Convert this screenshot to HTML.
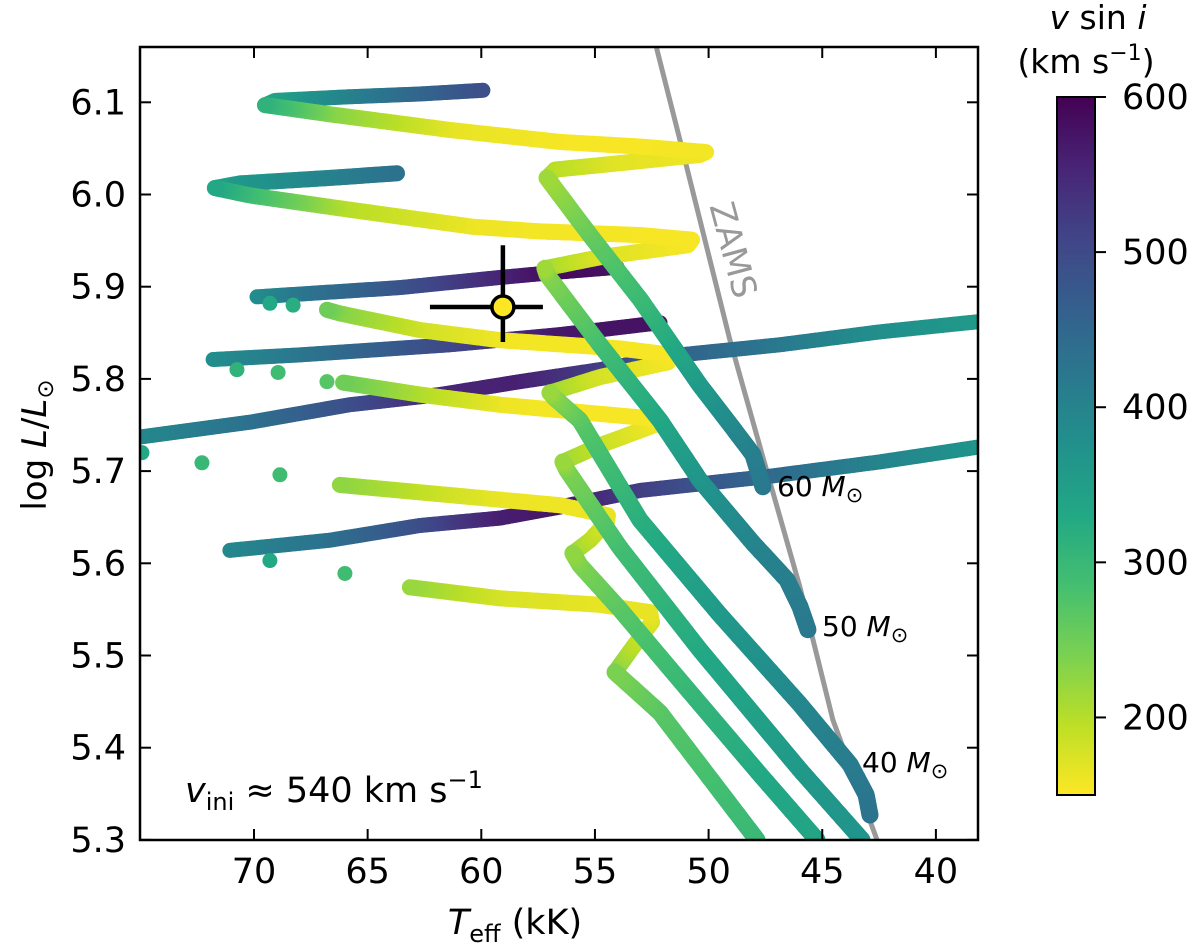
<!DOCTYPE html>
<html><head><meta charset="utf-8">
<style>
html,body{margin:0;padding:0;background:#fff;}
svg{display:block;font-family:"DejaVu Sans","Liberation Sans",sans-serif;}
</style></head>
<body>
<svg id="chart" width="1200" height="950" viewBox="0 0 1200 950" xmlns="http://www.w3.org/2000/svg">
<defs>
<clipPath id="plotclip"><rect x="140" y="47" width="838" height="793"/></clipPath>
<linearGradient id="cbgrad" x1="0" y1="0" x2="0" y2="1">
<stop offset="0" stop-color="#440154"/><stop offset="0.1" stop-color="#482475"/><stop offset="0.2" stop-color="#414487"/><stop offset="0.3" stop-color="#355f8d"/><stop offset="0.4" stop-color="#2a788e"/><stop offset="0.5" stop-color="#21918c"/><stop offset="0.6" stop-color="#22a884"/><stop offset="0.7" stop-color="#44bf70"/><stop offset="0.8" stop-color="#7ad151"/><stop offset="0.9" stop-color="#bddf26"/><stop offset="1" stop-color="#fde725"/>
</linearGradient>
</defs>
<rect x="0" y="0" width="1200" height="950" fill="#fff"/>
<g id="plot" clip-path="url(#plotclip)"></g>
<g id="axes"></g>
<text x="185" y="802" font-size="35" fill="#000"><tspan font-style="italic">v</tspan><tspan font-size="24" dy="8">ini</tspan><tspan dy="-8"> ≈ 540 km s</tspan><tspan font-size="24" dy="-14">−1</tspan></text>
<text x="777" y="496" font-size="28">60 <tspan font-style="italic">M</tspan><tspan font-size="21" dy="6">⊙</tspan></text>
<text x="822" y="636" font-size="28">50 <tspan font-style="italic">M</tspan><tspan font-size="21" dy="6">⊙</tspan></text>
<text x="862" y="772" font-size="28">40 <tspan font-style="italic">M</tspan><tspan font-size="21" dy="6">⊙</tspan></text>
<text x="0" y="0" font-size="34" fill="#999" text-anchor="middle" transform="translate(722,253) rotate(75)">ZAMS</text>
<text x="0" y="0" font-size="34" text-anchor="middle" transform="translate(46,445) rotate(-90)">log <tspan font-style="italic">L</tspan>/<tspan font-style="italic">L</tspan><tspan font-size="23" dy="7">⊙</tspan></text>
<text x="515" y="934" font-size="35" text-anchor="middle"><tspan font-style="italic">T</tspan><tspan font-size="24" dy="8">eff</tspan><tspan dy="-8"> (kK)</tspan></text>
<rect x="1057" y="97" width="38" height="698" fill="url(#cbgrad)" stroke="#000" stroke-width="2"/>
<g id="cbticks"></g>
<text x="1098" y="29" font-size="33" text-anchor="middle"><tspan font-style="italic">v</tspan> sin  <tspan font-style="italic">i</tspan></text>
<text x="1086" y="73" font-size="33" text-anchor="middle">(km s<tspan font-size="22" dy="-13">−1</tspan><tspan dy="13">)</tspan></text>
<g id="errpt"></g>
</svg>
<script>
// ----- data -----
const xTicks=[70,65,60,55,50,45,40];
const yTicks=[5.3,5.4,5.5,5.6,5.7,5.8,5.9,6.0,6.1];
const cbTicks=[600,500,400,300,200];
const zamsT=[52.5,52.27,51.26,49.06,47.61,45.98,44.53,42.59,42.3];
const zamsL=[6.2,6.157,6.059,5.842,5.715,5.574,5.43,5.3,5.26];
const starT=[59.05]; const starL=[5.878];
const starTerrLo=[57.29]; const starTerrHi=[62.26];
const starLerrLo=[5.84]; const starLerrHi=[5.945];
// 60 Msun
const ms60T=[47.61,48.05,49.19,50.38,53.0,55.22,57.11];
const ms60L=[5.683,5.718,5.755,5.793,5.886,5.956,6.018];
const ms60V=[420,410,390,360,300,260,215];
const loop60T=[57.11,56.76,53.9,50.38,50.11,53.02,56.54,61.38,66.66,69.52];
const loop60L=[6.018,6.027,6.034,6.043,6.046,6.052,6.057,6.07,6.087,6.097];
const loop60V=[215,200,170,160,158,155,155,165,230,310];
const blue60T=[69.52,69.08,65.78,62.7,59.93];
const blue60L=[6.097,6.102,6.106,6.109,6.113];
const blue60V=[310,340,400,450,490];
// 50 Msun
const ms50T=[45.63,45.98,46.55,48.05,50.38,52.14,54.78,57.11,57.2];
const ms50L=[5.528,5.553,5.582,5.622,5.69,5.755,5.837,5.913,5.92];
const ms50V=[420,415,410,400,370,335,290,235,215];
const loop50T=[57.2,54.78,50.91,50.73,53.02,57.42,60.37,66.22,70.18,71.72];
const loop50L=[5.92,5.932,5.945,5.951,5.956,5.96,5.965,5.985,5.999,6.007];
const loop50V=[215,175,155,155,155,157,160,200,290,330];
const blue50T=[71.72,70.62,66.66,63.71];
const blue50L=[6.007,6.012,6.018,6.023];
const blue50V=[330,360,400,430];
// 40 Msun
const ms40T=[42.9,43.07,43.78,45.98,49.5,53.02,55.66,56.76,56.98];
const ms40L=[5.327,5.349,5.382,5.447,5.544,5.647,5.755,5.779,5.785];
const ms40V=[430,425,415,395,360,320,270,235,220];
const loop40T=[56.98,54.78,51.79,51.61,53.9,59.18,62.7,66.22,66.79];
const loop40L=[5.785,5.802,5.818,5.826,5.833,5.842,5.853,5.871,5.875];
const loop40V=[220,180,158,155,155,158,180,230,250];
const dots40T=[68.28,69.3]; const dots40L=[5.88,5.882]; const dots40V=[320,330];
const blue40T=[69.87,67.98,63.58,59.18,56.54,54.03];
const blue40L=[5.889,5.892,5.899,5.91,5.916,5.921];
const blue40V=[380,420,480,550,590,580];
// track D
const msDT=[43.25,45.98,50.38,53.9,56.23,56.41];
const msDL=[5.3,5.376,5.506,5.617,5.701,5.71];
const msDV=[370,360,330,290,240,220];
const loopDT=[56.41,54.78,52.36,52.49,56.54,59.18,62.7,66.08];
const loopDL=[5.71,5.728,5.75,5.757,5.766,5.772,5.783,5.796];
const loopDV=[220,190,160,155,155,160,200,250];
const dotsDT=[66.79,68.94,70.75]; const dotsDL=[5.797,5.807,5.81]; const dotsDV=[270,290,310];
const blueDT=[71.8,67.98,61.38,56.54,52.14];
const blueDL=[5.821,5.826,5.837,5.848,5.861];
const blueDV=[380,420,500,570,580];
// track E
const msET=[45.23,47.74,51.26,53.9,55.66,55.97];
const msEL=[5.3,5.371,5.473,5.55,5.598,5.611];
const msEV=[340,330,300,270,240,225];
const loopET=[55.97,55.22,54.47,54.43,56.54,59.18,62.7,66.22];
const loopEL=[5.611,5.625,5.645,5.652,5.663,5.669,5.677,5.685];
const loopEV=[225,200,175,165,160,162,190,225];
const dotsET=[68.86,72.29,74.93]; const dotsEL=[5.696,5.709,5.72]; const dotsEV=[290,300,330];
const blueET=[75.0,70.18,65.78,61.82,58.3,54.78,51.26,46.86,42.46,38.15];
const blueEL=[5.737,5.753,5.772,5.783,5.797,5.81,5.826,5.837,5.851,5.862];
const blueEV=[390,430,490,550,560,520,460,420,380,360];
// track F
const msFT=[47.87,52.14,54.12];
const msFL=[5.3,5.438,5.482];
const msFV=[300,270,240];
const loopFT=[54.12,53.33,52.49,52.58,54.78,59.18,63.14];
const loopFL=[5.482,5.509,5.536,5.547,5.555,5.562,5.574];
const loopFV=[240,200,175,165,165,175,220];
const dotsFT=[66.0,69.3]; const dotsFL=[5.589,5.603]; const dotsFV=[290,330];
const blueFT=[71.06,66.66,62.7,59.18,56.54,53.02,47.43,42.46,38.15];
const blueFL=[5.614,5.625,5.641,5.649,5.661,5.679,5.694,5.71,5.726];
const blueFV=[390,430,490,560,575,520,450,400,370];

// ----- scales -----
const NS="http://www.w3.org/2000/svg";
function xs(T){return 254+(70-T)*22.73;}
function ys(L){return 102.3+(6.1-L)*922;}
const vmin=150,vmax=600;
const vir=[[68,1,84],[72,36,117],[65,68,135],[53,95,141],[42,120,142],[33,145,140],[34,168,132],[68,191,112],[122,209,81],[189,223,38],[253,231,37]];
function cmap(v){let s=(vmax-v)/(vmax-vmin);s=Math.max(0,Math.min(1,s));let f=s*10,i=Math.min(9,Math.floor(f)),u=f-i;
 const a=vir[i],b=vir[i+1];return 'rgb('+a.map((c,k)=>Math.round(c+(b[k]-c)*u)).join(',')+')';}
function mk(tag,attrs,parent){const e=document.createElementNS(NS,tag);for(const k in attrs)e.setAttribute(k,attrs[k]);parent.appendChild(e);return e;}

const plot=document.getElementById('plot');
const axes=document.getElementById('axes');

// ZAMS
let zp=zamsT.map((t,i)=>xs(t)+','+ys(zamsL[i])).join(' ');
const zl=mk('polyline',{points:zp,fill:'none',stroke:'#999','stroke-width':5},plot);



function drawTrack(T,L,V,r,name){
  const g=mk('g',{},plot);
  
  
  for(let i=0;i<T.length-1;i++){
    const x0=xs(T[i]),y0=ys(L[i]),x1=xs(T[i+1]),y1=ys(L[i+1]);
    const n=Math.max(1,Math.ceil(Math.hypot(x1-x0,y1-y0)/1.5));
    for(let k=(i==0?0:1);k<=n;k++){const f=k/n;
      const c=mk('circle',{cx:(x0+(x1-x0)*f).toFixed(1),cy:(y0+(y1-y0)*f).toFixed(1),r:r,fill:cmap(V[i]+(V[i+1]-V[i])*f)},g);
      
      
    }
  }
}
function drawDots(T,L,V,r,name){
  for(let i=0;i<T.length;i++){
    const c=mk('circle',{cx:xs(T[i]),cy:ys(L[i]),r:r,fill:cmap(V[i])},plot);
    
    
  }
}
drawTrack(blueFT,blueFL,blueFV,7.5,'track-f-blue-branch');
drawTrack(blueET,blueEL,blueEV,7.5,'track-e-blue-branch');
drawTrack(blueDT,blueDL,blueDV,7.5,'track-d-blue-branch');
drawTrack(blue40T,blue40L,blue40V,7.5,'track-40-blue-branch');
drawTrack(blue50T,blue50L,blue50V,8,'track-50-blue-branch');
drawTrack(blue60T,blue60L,blue60V,7.5,'track-60-blue-branch');
drawDots(dotsFT,dotsFL,dotsFV,7.5,'track-f-dot');
drawDots(dotsET,dotsEL,dotsEV,7.5,'track-e-dot');
drawDots(dotsDT,dotsDL,dotsDV,7.5,'track-d-dot');
drawDots(dots40T,dots40L,dots40V,7.5,'track-40-dot');
drawTrack(loopFT,loopFL,loopFV,8,'track-f-loop');
drawTrack(loopET,loopEL,loopEV,8,'track-e-loop');
drawTrack(loopDT,loopDL,loopDV,8,'track-d-loop');
drawTrack(loop40T,loop40L,loop40V,8,'track-40-loop');
drawTrack(loop50T,loop50L,loop50V,8,'track-50-loop');
drawTrack(loop60T,loop60L,loop60V,8,'track-60-loop');
drawTrack(msFT,msFL,msFV,8.5,'track-f-main-sequence');
drawTrack(msET,msEL,msEV,8.5,'track-e-main-sequence');
drawTrack(msDT,msDL,msDV,8.5,'track-d-main-sequence');
drawTrack(ms40T,ms40L,ms40V,8.5,'track-40-main-sequence');
drawTrack(ms50T,ms50L,ms50V,8.5,'track-50-main-sequence');
drawTrack(ms60T,ms60L,ms60V,8.5,'track-60-main-sequence');

// star with error bars
const ep=document.getElementById('errpt');
const sx=xs(starT[0]),sy=ys(starL[0]);
const eh=mk('line',{x1:xs(starTerrHi[0]),x2:xs(starTerrLo[0]),y1:sy,y2:sy,stroke:'#000','stroke-width':4.5},ep);


const ev=mk('line',{x1:sx,x2:sx,y1:ys(starLerrHi[0]),y2:ys(starLerrLo[0]),stroke:'#000','stroke-width':4.5},ep);


const sc=mk('circle',{cx:sx,cy:sy,r:11,fill:'#fde725',stroke:'#000','stroke-width':3.5},ep);



// axes frame
const fr=mk('rect',{x:140,y:47,width:838,height:793,fill:'none',stroke:'#000','stroke-width':2.5},axes);


xTicks.forEach(t=>{const x=xs(t);
  const a=mk('line',{x1:x,x2:x,y1:840,y2:829,stroke:'#000','stroke-width':2},axes);
  
  
  const b=mk('line',{x1:x,x2:x,y1:47,y2:58,stroke:'#000','stroke-width':2},axes);
  
  
  const l=mk('text',{x:x,y:883,'font-size':35,'text-anchor':'middle'},axes);
  l.textContent=String(t);
  
  
});
yTicks.forEach(t=>{const y=ys(t);
  const a=mk('line',{x1:140,x2:151,y1:y,y2:y,stroke:'#000','stroke-width':2},axes);
  
  
  const b=mk('line',{x1:978,x2:967,y1:y,y2:y,stroke:'#000','stroke-width':2},axes);
  
  
  const l=mk('text',{x:126,y:y+12,'font-size':35,'text-anchor':'end'},axes);
  l.textContent=t.toFixed(1);
  
  
});
const cbt=document.getElementById('cbticks');
cbTicks.forEach(v=>{const y=97+(vmax-v)/(vmax-vmin)*698;
  const a=mk('line',{x1:1095,x2:1106,y1:y,y2:y,stroke:'#000','stroke-width':2},cbt);
  
  
  const l=mk('text',{x:1122,y:y+12,'font-size':35},cbt);
  l.textContent=String(v);
  
  
});
</script>
</body></html>
